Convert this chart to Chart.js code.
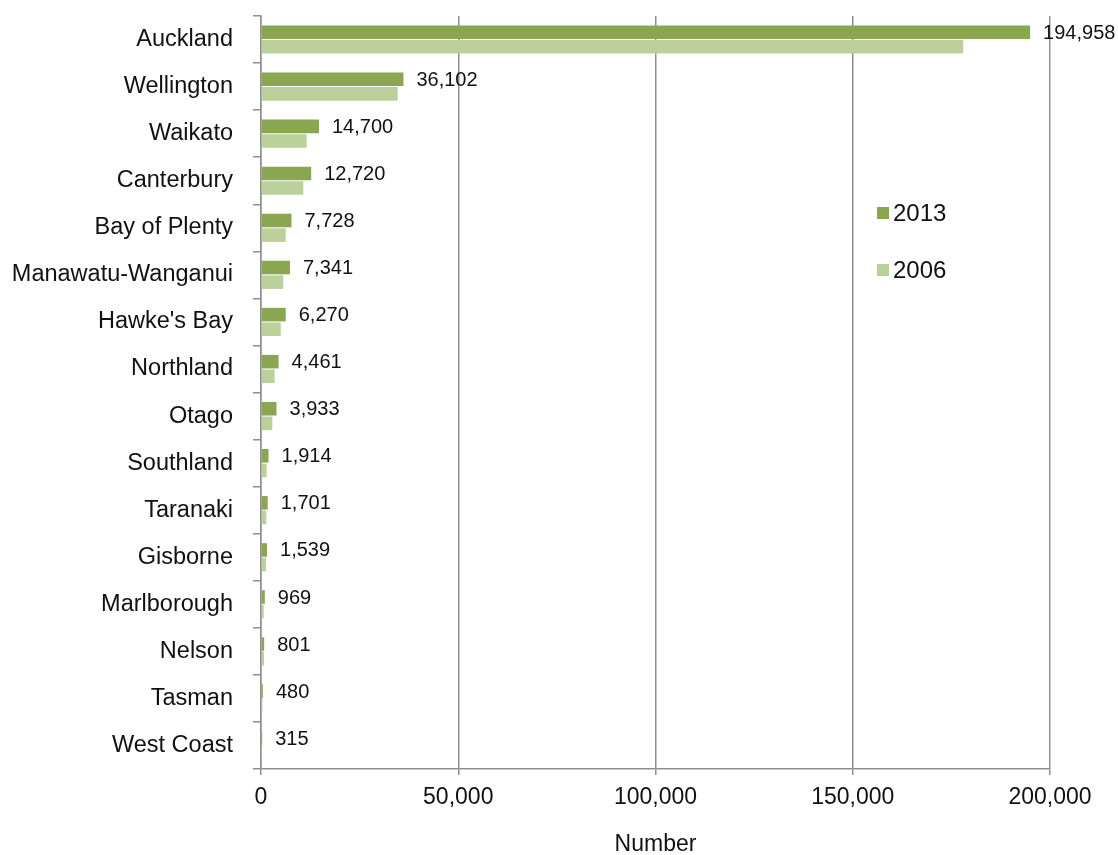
<!DOCTYPE html>
<html>
<head>
<meta charset="utf-8">
<script src="https://cdn.jsdelivr.net/npm/chart.js@4/dist/chart.umd.min.js"></script>
<style>
  html, body { margin: 0; padding: 0; background: #fff; }
  #wrap { position: relative; width: 1118px; height: 855px; }
</style>
</head>
<body>
<div id="wrap"><canvas id="c" width="1118" height="855"></canvas></div>
<script>
const regions = ["Auckland", "Wellington", "Waikato", "Canterbury", "Bay of Plenty",
  "Manawatu-Wanganui", "Hawke's Bay", "Northland", "Otago", "Southland", "Taranaki",
  "Gisborne", "Marlborough", "Nelson", "Tasman", "West Coast"];
const values2013 = [194958, 36102, 14700, 12720, 7728, 7341, 6270, 4461, 3933, 1914, 1701, 1539, 969, 801, 480, 315];
const values2006 = [178000, 34650, 11560, 10720, 6270, 5650, 5000, 3450, 2870, 1440, 1350, 1270, 680, 760, 350, 250];
const seriesNames = ["2013", "2006"];
const xTicks = [0, 50000, 100000, 150000, 200000];

const colors = ["#8BA650", "#BBD09A"];
const FONT = "'Liberation Sans', Arial, sans-serif";

const labelPlugin = {
  id: 'valueLabels',
  afterDatasetsDraw(chart) {
    const ctx = chart.ctx;
    const meta = chart.getDatasetMeta(0);
    const xs = chart.scales.x;
    ctx.save();
    ctx.font = "20px " + FONT;
    ctx.fillStyle = "#111";
    ctx.textAlign = "left";
    ctx.textBaseline = "middle";
    meta.data.forEach((bar, i) => {
      const v = values2013[i];
      const x = xs.getPixelForValue(v) + 13;
      ctx.fillText(v.toLocaleString('en-US'), x, bar.y + 1);
    });
    ctx.restore();
  }
};

const legendPlugin = {
  id: 'customLegend',
  afterDraw(chart) {
    const ctx = chart.ctx;
    const x0 = 877, ys = [213, 270];
    ctx.save();
    ctx.font = "24px " + FONT;
    ctx.textBaseline = "middle";
    ctx.textAlign = "left";
    seriesNames.forEach((name, i) => {
      ctx.fillStyle = colors[i];
      ctx.fillRect(x0, ys[i] - 6, 12, 12);
      ctx.fillStyle = "#111";
      ctx.fillText(name, x0 + 16, ys[i] + 1);
    });
    ctx.restore();
  }
};

new Chart(document.getElementById('c'), {
  type: 'bar',
  data: {
    labels: regions,
    datasets: [
      { label: seriesNames[0], data: values2013, backgroundColor: colors[0], categoryPercentage: 0.62, barPercentage: 0.93 },
      { label: seriesNames[1], data: values2006, backgroundColor: colors[1], categoryPercentage: 0.62, barPercentage: 0.93 }
    ]
  },
  options: {
    indexAxis: 'y',
    responsive: false,
    animation: false,
    layout: { padding: { left: 0, right: 68, top: 16, bottom: 0 } },
    plugins: {
      legend: { display: false },
      tooltip: { enabled: false }
    },
    scales: {
      x: {
        min: 0, max: 200000,
        afterBuildTicks(scale) { scale.ticks = xTicks.map(v => ({ value: v })); },
        afterFit(scale) { scale.height = 86; },
        grid: { color: '#8f8f8f', lineWidth: 1.5, tickLength: 6, drawTicks: true },
        border: { color: '#8f8f8f', width: 1.5 },
        ticks: {
          color: '#111', padding: 9,
          font: { family: FONT, size: 23 },
          callback: v => Number(v).toLocaleString('en-US'),
          maxRotation: 0
        },
        title: {
          display: true, text: 'Number', color: '#111',
          font: { family: FONT, size: 23, lineHeight: 1 },
          padding: { top: 0, bottom: -1 }
        }
      },
      y: {
        afterFit(scale) { scale.width = 261; scale.paddingTop = 0; scale.paddingBottom = 0; },
        grid: { drawOnChartArea: false, drawTicks: true, tickLength: 8, color: '#8f8f8f', lineWidth: 1.5, offset: true },
        border: { color: '#8f8f8f', width: 1.5 },
        ticks: { color: '#111', padding: 20, font: { family: FONT, size: 23.5 }, autoSkip: false }
      }
    }
  },
  plugins: [labelPlugin, legendPlugin]
});
</script>
</body>
</html>
